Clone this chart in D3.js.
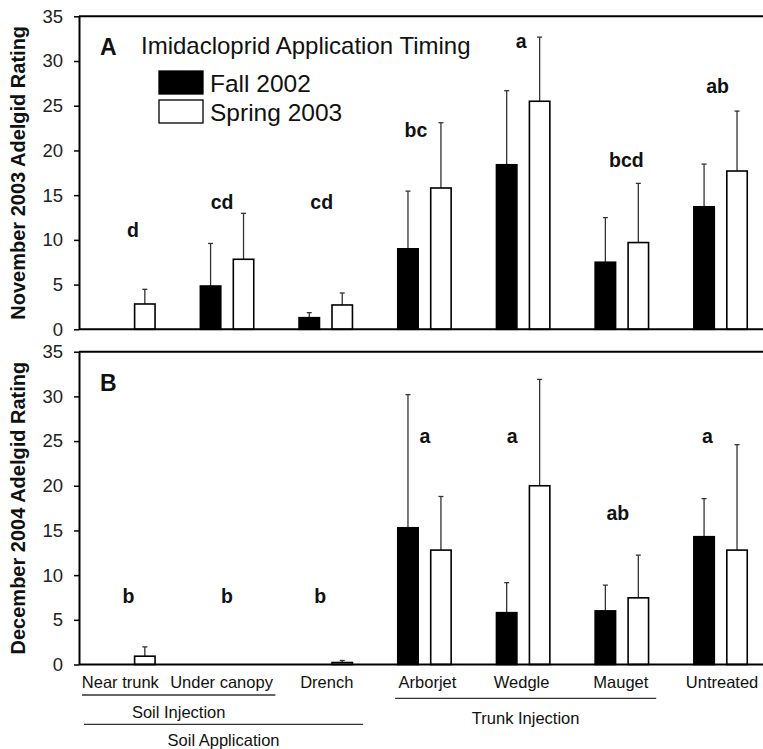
<!DOCTYPE html>
<html>
<head>
<meta charset="utf-8">
<script src="https://cdn.jsdelivr.net/npm/d3@7/dist/d3.min.js"></script>
<style>
  body { margin: 0; background: #fff; }
  svg { display: block; font-family: "Liberation Sans", Arial, sans-serif; }
</style>
</head>
<body>
<div id="chart"></div>
<script>
const categories = ['Near trunk', 'Under canopy', 'Drench', 'Arborjet', 'Wedgle', 'Mauget', 'Untreated'];
const seriesNames = ['Fall 2002', 'Spring 2003'];
const yTicks = [0, 5, 10, 15, 20, 25, 30, 35];

// panel A: November 2003 rating (means and standard errors)
const fallA = [0, 4.84, 1.3, 9.0, 18.4, 7.5, 13.7];
const fallErrA = [0, 4.76, 0.56, 6.45, 8.28, 4.99, 4.77];
const springA = [2.83, 7.83, 2.72, 15.8, 25.5, 9.7, 17.7];
const springErrA = [1.64, 5.14, 1.34, 7.3, 7.17, 6.62, 6.7];
const lettersA = ['d', 'cd', 'cd', 'bc', 'a', 'bcd', 'ab'];
const letterLevelA = [10.3, 13.5, 13.5, 21.5, 31.4, 18.2, 26.4];

// panel B: December 2004 rating
const fallB = [0, 0, 0, 15.3, 5.8, 6.0, 14.3];
const fallErrB = [0, 0, 0, 14.9, 3.36, 2.88, 4.26];
const springB = [0.93, 0, 0.22, 12.8, 20.0, 7.46, 12.8];
const springErrB = [1.04, 0, 0.23, 6.0, 11.9, 4.78, 11.8];
const lettersB = ['b', 'b', 'b', 'a', 'a', 'ab', 'a'];
const letterLevelB = [6.85, 6.85, 6.85, 24.75, 24.75, 16.2, 24.75];

const groups = [
  { label: 'Soil Injection', from: 'Near trunk', to: 'Under canopy' },
  { label: 'Trunk Injection', from: 'Arborjet', to: 'Mauget' },
  { label: 'Soil Application', from: 'Near trunk', to: 'Drench' }
];

const width = 763;
const height = 749;
const left = 79;

const svg = d3.select('#chart').append('svg')
  .attr('width', width)
  .attr('height', height);

const x0 = d3.scaleBand()
  .domain(categories)
  .range([left, left + 7 * 98.7]);

const x1 = d3.scaleBand()
  .domain(seriesNames)
  .range([x0.bandwidth() / 2 - 26.7, x0.bandwidth() / 2 + 26.7])
  .paddingInner(0.38);

function drawPanel(cfg) {
  const y = d3.scaleLinear().domain([0, 35]).range([cfg.bottom, cfg.top]);
  const g = svg.append('g');

  const rows = categories.map((c, i) => ({
    cat: c,
    vals: [
      { s: seriesNames[0], v: cfg.fall[i], e: cfg.fallErr[i] },
      { s: seriesNames[1], v: cfg.spring[i], e: cfg.springErr[i] }
    ]
  }));

  const grp = g.selectAll('.grp')
    .data(rows)
    .enter().append('g')
    .attr('transform', d => `translate(${x0(d.cat)},0)`);

  const bar = grp.selectAll('.bar')
    .data(d => d.vals.filter(v => v.v > 0))
    .enter().append('g');

  // error bars (upper only)
  bar.filter(d => d.e > 0).append('line')
    .attr('x1', d => x1(d.s) + x1.bandwidth() / 2)
    .attr('x2', d => x1(d.s) + x1.bandwidth() / 2)
    .attr('y1', d => y(d.v))
    .attr('y2', d => y(d.v + d.e))
    .attr('stroke', '#333')
    .attr('stroke-width', 1.3);
  bar.filter(d => d.e > 0).append('line')
    .attr('x1', d => x1(d.s) + x1.bandwidth() / 2 - 2.5)
    .attr('x2', d => x1(d.s) + x1.bandwidth() / 2 + 2.5)
    .attr('y1', d => y(d.v + d.e))
    .attr('y2', d => y(d.v + d.e))
    .attr('stroke', '#333')
    .attr('stroke-width', 1.3);

  bar.append('rect')
    .attr('x', d => x1(d.s))
    .attr('width', x1.bandwidth())
    .attr('y', d => y(d.v))
    .attr('height', d => y(0) - y(d.v))
    .attr('fill', d => d.s === seriesNames[0] ? '#000' : '#fff')
    .attr('stroke', '#000')
    .attr('stroke-width', 1.6);

  // significance letters
  g.selectAll('.letter')
    .data(cfg.letters)
    .enter().append('text')
    .attr('x', (d, i) => x0(categories[i]) + x0.bandwidth() / 2 + cfg.nudge[i])
    .attr('y', (d, i) => y(cfg.letterLevel[i]))
    .attr('text-anchor', 'middle')
    .attr('font-weight', 'bold')
    .attr('font-size', 19.5)
    .attr('fill', '#111')
    .text(d => d);

  // axes
  const axis = g.append('g')
    .attr('transform', `translate(${left},0)`)
    .call(d3.axisLeft(y).tickValues(yTicks).tickSize(5).tickSizeOuter(0).tickPadding(11));
  axis.select('.domain').attr('stroke', '#000').attr('stroke-width', 2);
  axis.selectAll('.tick line').attr('stroke', '#000').attr('stroke-width', 1.5);
  axis.selectAll('.tick text')
    .attr('font-size', 18.5)
    .attr('font-family', '"Liberation Sans", Arial, sans-serif')
    .attr('fill', '#222');

  g.append('line')
    .attr('x1', left).attr('x2', width)
    .attr('y1', y(0)).attr('y2', y(0))
    .attr('stroke', '#000').attr('stroke-width', 2);
  g.append('line')
    .attr('x1', left).attr('x2', width)
    .attr('y1', y(35)).attr('y2', y(35))
    .attr('stroke', '#000').attr('stroke-width', 2);

  g.append('text')
    .attr('transform', `translate(25,${(cfg.top + cfg.bottom) / 2}) rotate(-90)`)
    .attr('text-anchor', 'middle')
    .attr('font-weight', 'bold')
    .attr('font-size', 20)
    .attr('fill', '#111')
    .text(cfg.title);

  g.append('text')
    .attr('x', 100)
    .attr('y', cfg.top + 39)
    .attr('font-weight', 'bold')
    .attr('font-size', 23)
    .attr('fill', '#111')
    .text(cfg.tag);

  return y;
}

drawPanel({
  top: 16.3, bottom: 329.3,
  fall: fallA, fallErr: fallErrA, spring: springA, springErr: springErrA,
  letters: lettersA, letterLevel: letterLevelA,
  nudge: [4.5, -5, -4, -8.5, -2, 4.5, -3],
  title: 'November 2003 Adelgid Rating', tag: 'A'
});

drawPanel({
  top: 351.7, bottom: 664.5,
  fall: fallB, fallErr: fallErrB, spring: springB, springErr: springErrB,
  letters: lettersB, letterLevel: letterLevelB,
  nudge: [0, 0, -5.5, 0.5, -11, -4, -13],
  title: 'December 2004 Adelgid Rating', tag: 'B'
});

// legend
const legend = svg.append('g').attr('font-size', 24).attr('fill', '#111');
legend.append('text').attr('x', 141).attr('y', 54.3).text('Imidacloprid Application Timing');
const legendItems = legend.selectAll('.item')
  .data(seriesNames)
  .enter().append('g')
  .attr('transform', (d, i) => `translate(159,${71 + i * 29})`);
legendItems.append('rect')
  .attr('width', 44).attr('height', 23)
  .attr('fill', (d, i) => i === 0 ? '#000' : '#fff')
  .attr('stroke', '#000').attr('stroke-width', 1.3);
legendItems.append('text')
  .attr('x', 51).attr('y', 20.5)
  .attr('font-size', 24.5)
  .text(d => d);

// category labels and grouping brackets
const labelNudge = [-8, -5.5, 1, 3, -1.5, -1, 1.5];
svg.append('g').selectAll('text')
  .data(categories)
  .enter().append('text')
  .attr('x', (d, i) => x0(d) + x0.bandwidth() / 2 + labelNudge[i])
  .attr('y', 687.7)
  .attr('text-anchor', 'middle')
  .attr('font-size', 16.5)
  .attr('fill', '#111')
  .text(d => d);

const bracketSpan = {
  'Soil Injection': [3, -1],
  'Trunk Injection': [20, -15],
  'Soil Application': [5, -12]
};
const bracketY = [[695, 718], [698.3, 724], [724.3, 745.5]];
const br = svg.append('g').selectAll('g')
  .data(groups)
  .enter().append('g');
br.append('line')
  .attr('x1', d => x0(d.from) + bracketSpan[d.label][0])
  .attr('x2', d => x0(d.to) + x0.bandwidth() + bracketSpan[d.label][1])
  .attr('y1', (d, i) => bracketY[i][0])
  .attr('y2', (d, i) => bracketY[i][0])
  .attr('stroke', '#333')
  .attr('stroke-width', 1.3);
br.append('text')
  .attr('x', d => (x0(d.from) + bracketSpan[d.label][0] + x0(d.to) + x0.bandwidth() + bracketSpan[d.label][1]) / 2)
  .attr('y', (d, i) => bracketY[i][1])
  .attr('text-anchor', 'middle')
  .attr('font-size', 16.5)
  .attr('fill', '#111')
  .text(d => d.label);
</script>
</body>
</html>
